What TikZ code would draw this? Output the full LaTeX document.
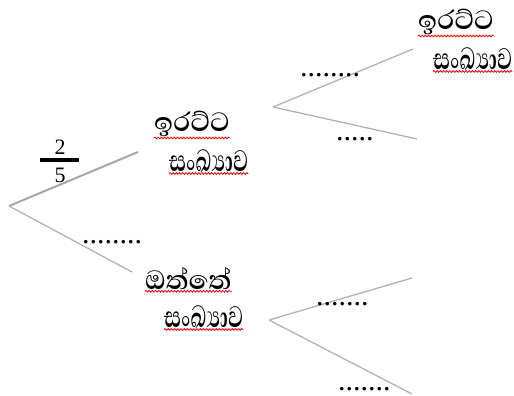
\documentclass[tikz,border=0pt]{standalone}
\usepackage{fontspec}
\setmainfont{Liberation Serif}
\newfontfamily\sinfont[Script=Sinhala, UprightFont=* SemiBold]{Abhaya Libre}
\newfontfamily\sinfontn[Script=Sinhala, UprightFont=* SemiBold, FakeStretch=0.7]{Abhaya Libre}
\usetikzlibrary{decorations.pathmorphing}
\tikzset{
  branch/.style={draw=gray!60, line width=1.3pt},
  mainbranch/.style={draw=gray!70, line width=2pt},
  sin/.style={inner sep=0pt, anchor=west, font=\sinfont\fontsize{34}{38}\selectfont},
  sinn/.style={inner sep=0pt, anchor=west, font=\sinfontn\fontsize{38}{40}\selectfont},
  dots/.style={inner sep=0pt, font=\fontsize{30}{30}\selectfont},
  digit/.style={inner sep=0pt, font=\fontsize{22}{22}\selectfont},
  squig/.style={draw=red!90!black, line width=0.8pt, decorate, decoration={snake, amplitude=0.9pt, segment length=3.2pt}}
}
\begin{document}
\begin{tikzpicture}[x=1pt,y=-1pt]
\useasboundingbox (0,0) rectangle (514,396);
% tree coordinates
\coordinate (r) at (9,206);
\coordinate (a) at (138,152);
\coordinate (b) at (132,272);
\coordinate (ra) at (273,107);
\coordinate (raa) at (413,49);
\coordinate (rab) at (417,139);
\coordinate (rb) at (269,320);
\coordinate (rba) at (412,278);
\coordinate (rbb) at (412,394);
\draw[mainbranch] (r) -- (a);
\draw[branch] (r) -- (b);
\draw[branch] (ra) -- (raa);
\draw[branch] (ra) -- (rab);
\draw[branch] (rb) -- (rba);
\draw[branch] (rb) -- (rbb);
% fraction
\node[digit] (two) at (60,147.5) {2};
\node[digit] (five) at (60,175) {5};
\coordinate (barl) at (40,159.5);
\coordinate (barr) at (79,159.5);
\draw[line width=4pt] (barl) -- (barr);
% dots
\node[dots, anchor=west] (d1) at (82,242) {........};
\node[dots, anchor=west] (d2) at (300,75) {........};
\node[dots, anchor=west] (d3) at (336,139) {.....};
\node[dots, anchor=west] (d4) at (316,304) {.......};
\node[dots, anchor=west] (d5) at (338,389) {.......};
% labels
\node[sin] (t1) at (154,124) {ඉරට්ට};
\node[sinn] (t2) at (169,161) {සංඛ්‍යාව};
\node[sin] (t3) at (145,279) {ඔත්තේ};
\node[sinn] (t4) at (164,317) {සංඛ්‍යාව};
\node[sin] (t5) at (418,22) {ඉරට්ට};
\node[sinn] (t6) at (433,59) {සංඛ්‍යාව};
% spell-check underlines
\foreach \t in {t1,t2,t3,t4,t5,t6}{
  \draw[squig] ([yshift=-1pt]\t.south west) -- ([yshift=-1pt]\t.south east);
}
\end{tikzpicture}
\end{document}
